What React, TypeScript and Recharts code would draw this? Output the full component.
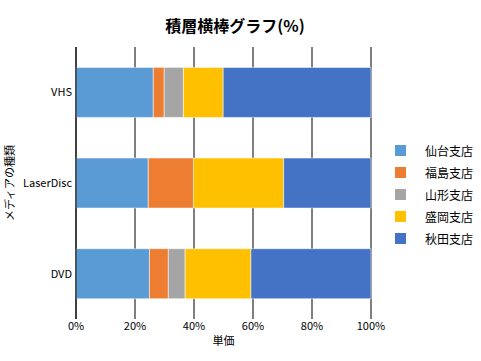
import { BarChart, Bar, XAxis, YAxis, CartesianGrid, Legend } from 'recharts';

const categories = ['VHS', 'LaserDisc', 'DVD'];
const branches = ['仙台支店', '福島支店', '山形支店', '盛岡支店', '秋田支店'];
const colors = ['#5B9BD5', '#ED7D31', '#A5A5A5', '#FFC000', '#4472C4'];

// 各支店の構成比（%）
const sendai = [26.2, 24.5, 24.9];
const fukushima = [3.7, 15.3, 6.4];
const yamagata = [6.5, 0, 5.7];
const morioka = [13.5, 30.6, 22.3];
const akita = [50.1, 29.6, 40.7];

const xTicks = [0, 20, 40, 60, 80, 100];

const seriesValues = [sendai, fukushima, yamagata, morioka, akita];
const data = categories.map((name, i) => {
  const row: Record<string, string | number> = { name };
  branches.forEach((b, j) => {
    row[b] = seriesValues[j][i];
  });
  return row;
});

const font = '"Noto Sans CJK JP", "Noto Sans", sans-serif';

const renderLegend = () => (
  <div style={{ fontFamily: font, fontSize: 12, color: '#000' }}>
    {branches.map((b, i) => (
      <div key={b} style={{ display: 'flex', alignItems: 'center', height: 22 }}>
        <span style={{ width: 11, height: 11, background: colors[i], display: 'inline-block' }} />
        <span style={{ marginLeft: 19 }}>{b}</span>
      </div>
    ))}
  </div>
);

export default function App() {
  return (
    <div style={{ position: 'absolute', left: 0, top: 0, width: 481, height: 361, background: '#fff', fontFamily: font }}>
      <div style={{ position: 'absolute', left: 0, top: 13, width: 470, textAlign: 'center', fontSize: 16, fontWeight: 'bold' }}>
        積層横棒グラフ(%)
      </div>
      <BarChart
        width={481}
        height={361}
        data={data}
        layout="vertical"
        margin={{ top: 47, right: 110, bottom: 16, left: 0 }}
        barCategoryGap="22.5%"
      >
        <CartesianGrid horizontal={false} stroke="#000" />
        <XAxis
          type="number"
          domain={[0, 100]}
          ticks={xTicks}
          tickFormatter={(v) => `${v}%`}
          axisLine={false}
          tickLine={false}
          tickSize={0}
          tickMargin={3}
          height={26}
          tick={{ fontSize: 11, fill: '#000', fontFamily: font }}
          label={{ value: '単価', position: 'insideBottom', offset: 0, fontSize: 11, fill: '#000', fontFamily: font }}
        />
        <YAxis
          type="category"
          dataKey="name"
          width={76}
          axisLine={{ stroke: '#000' }}
          tickLine={false}
          tickSize={0}
          tickMargin={4}
          tick={{ fontSize: 11, fill: '#000', fontFamily: font }}
          label={{
            value: 'メディアの種類',
            angle: -90,
            position: 'insideLeft',
            offset: 10,
            fontSize: 11,
            fill: '#000',
            fontFamily: font,
            style: { textAnchor: 'middle' },
          }}
        />
        <Legend
          layout="horizontal"
          verticalAlign="middle"
          align="center"
          content={renderLegend}
          wrapperStyle={{ position: 'absolute', left: 395, top: 139, width: 80 }}
        />
        {branches.map((b, i) => (
          <Bar
            key={b}
            dataKey={b}
            stackId="a"
            fill={colors[i]}
            stroke="#ffffff"
            strokeOpacity={0.5}
            isAnimationActive={false}
          />
        ))}
      </BarChart>
    </div>
  );
}
